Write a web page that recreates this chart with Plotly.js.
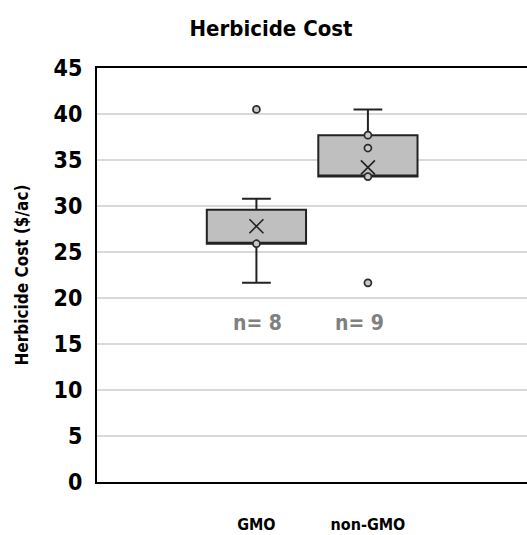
<!DOCTYPE html>
<html>
<head>
<meta charset="utf-8">
<script src="https://cdn.plot.ly/plotly-3.0.1.min.js"></script>
<style>html,body{margin:0;padding:0;background:#fff;}#chart{width:527px;height:535px;}</style>
</head>
<body>
<div id="chart"></div>
<script>
const categories = ['GMO', 'non-GMO'];
const q1 = [25.9, 33.2];
const median = [25.9, 33.2];
const q3 = [29.6, 37.7];
const lowerFence = [21.65, 33.2];
const upperFence = [30.8, 40.5];
const means = [27.8, 34.2];
const sampleSizes = [8, 9];
const gmoPoints = [25.9, 40.5];
const nonGmoPoints = [37.7, 36.3, 33.2, 21.65];

const FONT = '"DejaVu Sans Condensed", "DejaVu Sans", sans-serif';
function f(size, color) {
  return {family: FONT, size: size, color: color || '#000000', weight: 'bold', stretch: 'condensed'};
}

const pointX = gmoPoints.map(() => categories[0]).concat(nonGmoPoints.map(() => categories[1]));
const pointY = gmoPoints.concat(nonGmoPoints);

const traces = [
  {
    type: 'box',
    x: categories,
    q1: q1,
    median: median,
    q3: q3,
    lowerfence: lowerFence,
    upperfence: upperFence,
    width: 0.89,
    whiskerwidth: 0.29,
    fillcolor: '#bfbfbf',
    line: {color: '#222222', width: 2},
    boxpoints: false,
    hoverinfo: 'skip',
    showlegend: false
  },
  {
    type: 'scatter',
    mode: 'markers',
    x: pointX,
    y: pointY,
    marker: {symbol: 'circle', size: 7, color: '#c8c8c8', line: {color: '#2a2a2a', width: 1.7}},
    showlegend: false,
    hoverinfo: 'skip'
  },
  {
    type: 'scatter',
    mode: 'markers',
    x: categories,
    y: means,
    marker: {symbol: 'x-thin', size: 14, line: {color: '#222222', width: 1.6}},
    showlegend: false,
    hoverinfo: 'skip'
  }
];

const layout = {
  width: 527,
  height: 535,
  margin: {l: 97, r: 0, t: 68, b: 52.5},
  paper_bgcolor: '#ffffff',
  plot_bgcolor: '#ffffff',
  font: f(14),
  title: {
    text: 'Herbicide Cost',
    font: f(22),
    x: 271 / 527, xanchor: 'center', xref: 'container',
    y: 1 - 28 / 535, yanchor: 'middle', yref: 'container'
  },
  xaxis: {
    type: 'category',
    range: [-1.43, 2.427],
    showgrid: false,
    zeroline: false,
    showline: true,
    mirror: true,
    linecolor: '#000000',
    linewidth: 2,
    ticks: '',
    ticklabelstandoff: 27,
    tickfont: f(16),
    fixedrange: true
  },
  yaxis: {
    range: [0, 45],
    tick0: 0,
    dtick: 5,
    showgrid: true,
    gridcolor: '#d9d9d9',
    gridwidth: 1.5,
    zeroline: false,
    showline: true,
    linecolor: '#000000',
    linewidth: 2,
    ticks: '',
    ticklabelstandoff: 8,
    tickfont: f(23),
    title: {
      text: 'Herbicide Cost ($/ac)',
      font: f(17),
      standoff: 21
    },
    fixedrange: true
  },
  annotations: categories.map((c, i) => ({
    x: c,
    y: 17.3,
    xref: 'x',
    yref: 'y',
    text: 'n= ' + sampleSizes[i],
    showarrow: false,
    font: f(21, '#808080'),
    xshift: i === 0 ? 1 : -8
  }))
};

Plotly.newPlot('chart', traces, layout, {displayModeBar: false, staticPlot: true});
</script>
</body>
</html>
